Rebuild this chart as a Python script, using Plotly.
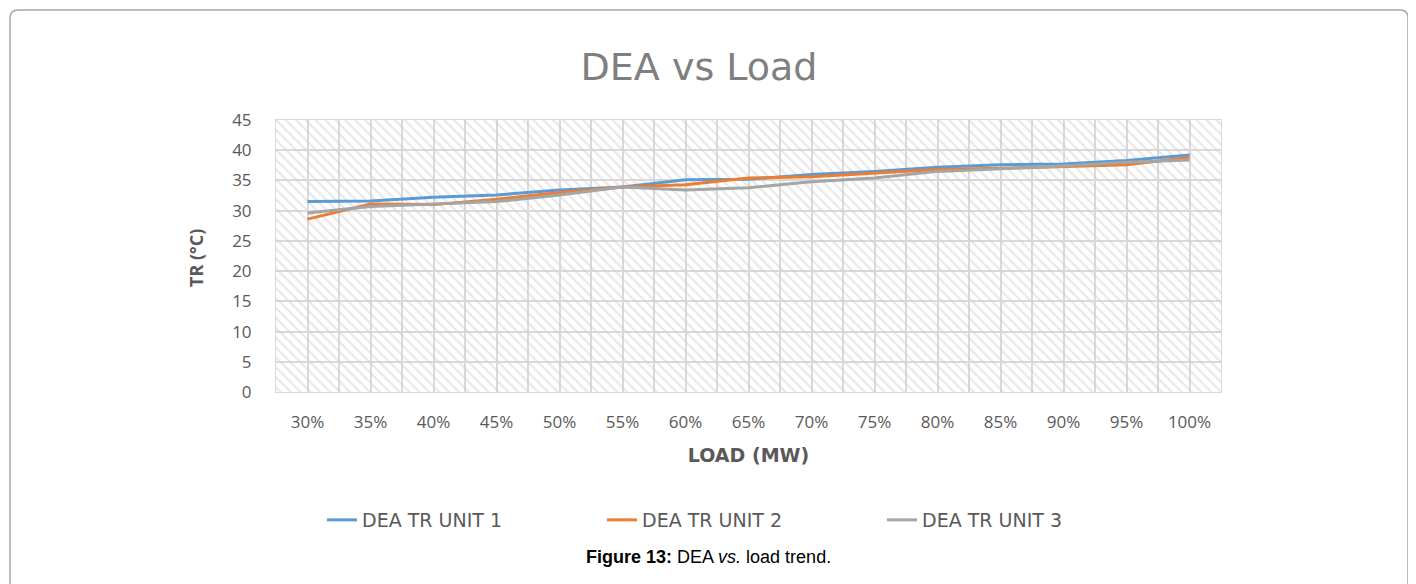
import plotly.graph_objects as go

loads = ['30%', '35%', '40%', '45%', '50%', '55%', '60%', '65%',
         '70%', '75%', '80%', '85%', '90%', '95%', '100%']
unit1 = [31.5, 31.6, 32.2, 32.6, 33.4, 33.9, 35.1, 35.2, 36.0, 36.5, 37.2, 37.6, 37.7, 38.3, 39.2]
unit2 = [28.6, 31.1, 31.0, 31.9, 33.0, 33.9, 34.3, 35.4, 35.6, 36.2, 36.8, 37.0, 37.3, 37.6, 38.8]
unit3 = [29.6, 30.7, 31.1, 31.5, 32.6, 33.9, 33.4, 33.8, 34.8, 35.4, 36.5, 36.9, 37.4, 38.0, 38.4]

series = [('DEA TR UNIT 1', unit1, '#5b9bd5'),
          ('DEA TR UNIT 2', unit2, '#ed7d31'),
          ('DEA TR UNIT 3', unit3, '#a5a5a5')]

W, H = 1416, 584
OFF = 8  # page body margin
L, T = 276 - OFF, 120 - OFF
R, B = W - (1221 - OFF), H - (392 - OFF)
pw, ph = W - L - R, H - T - B
font = "Open Sans"
wide = "DejaVu Sans"

xs = list(range(len(loads)))
xmin, xmax = -0.5, len(loads) - 0.5
ymin, ymax = 0, 45

fig = go.Figure()

# hatched plot background
fig.add_trace(go.Scatter(x=[xmin, xmax, xmax, xmin, xmin], y=[ymin, ymin, ymax, ymax, ymin],
                         mode='lines', line=dict(width=0), fill='toself',
                         fillcolor='rgba(0,0,0,0)',
                         fillpattern=dict(shape='\\', fgcolor='#cfcfcf', bgcolor='rgba(0,0,0,0)',
                                          size=7, solidity=0.3),
                         hoverinfo='skip', showlegend=False))

for name, vals, col in series:
    fig.add_trace(go.Scatter(x=xs, y=vals, name=name, mode='lines',
                             line=dict(color=col, width=3)))

def px_x(p):
    return (p - OFF - L) / pw

def px_y(p):
    return (H - B - (p - OFF)) / ph

# rounded frame around the figure
x0, x1, y0, y1 = px_x(10), px_x(1408), px_y(10), px_y(600)
rx, ry = 8 / pw, 8 / ph
path = (f"M {x0+rx},{y0} L {x1-rx},{y0} Q {x1},{y0} {x1},{y0-ry} "
        f"L {x1},{y1} L {x0},{y1} L {x0},{y0-ry} Q {x0},{y0} {x0+rx},{y0} Z")

fig.update_layout(
    width=W, height=H,
    margin=dict(l=L, r=R, t=T, b=B, autoexpand=False),
    paper_bgcolor='white', plot_bgcolor='white',
    font=dict(family=font, color='#595959', size=16),
    title=dict(text='DEA vs Load', x=(699 - OFF) / W, xref='container',
               y=(H - (67 - OFF)) / H, yref='container', xanchor='center', yanchor='middle',
               font=dict(family=wide, size=38, color='#7f7f7f')),
    xaxis=dict(range=[xmin, xmax], tickmode='array', tickvals=xs, ticktext=loads,
               showgrid=True, gridcolor='#d9d9d9', gridwidth=1.5, zeroline=False,
               showline=True, linecolor='#d9d9d9', mirror=True,
               ticks='outside', ticklen=15, tickcolor='rgba(0,0,0,0)', tickangle=0,
               minor=dict(tickvals=[i + 0.5 for i in xs], showgrid=True,
                          gridcolor='#d9d9d9', gridwidth=1.5),
               tickfont=dict(size=17, color='#595959'),
               title=dict(text='<b>LOAD (MW)</b>', font=dict(family=wide, size=19, color='#595959'),
                          standoff=16)),
    yaxis=dict(range=[ymin, ymax], dtick=5, showgrid=True, gridcolor='#d9d9d9', gridwidth=1.5,
               zeroline=False, showline=True, linecolor='#d9d9d9', mirror=True,
               ticks='outside', ticklen=20, tickcolor='rgba(0,0,0,0)',
               tickfont=dict(size=17, color='#595959')),
    legend=dict(orientation='h', x=(742 - OFF) / W, xref='container', xanchor='center',
                y=px_y(520), yanchor='middle', font=dict(family=wide, size=19, color='#595959'),
                entrywidth=235, tracegroupgap=0),
    shapes=[dict(type='path', path=path, xref='paper', yref='paper',
                 line=dict(color='#a6a6a6', width=1.5), layer='below')],
    annotations=[
        dict(text='<b>TR (\u00b0C)</b>', xref='paper', yref='paper', x=px_x(196), y=px_y(258),
             textangle=-90, showarrow=False, xanchor='center', yanchor='middle',
             font=dict(family=font, size=18, color='#595959')),
        dict(text='<b>Figure 13:</b> DEA <i>vs.</i> load trend.', xref='paper',
             yref='paper', x=px_x(708), y=px_y(557), showarrow=False,
             xanchor='center', yanchor='middle',
             font=dict(family='Liberation Sans', size=18, color='black')),
    ],
)

fig.write_html("out.html")
